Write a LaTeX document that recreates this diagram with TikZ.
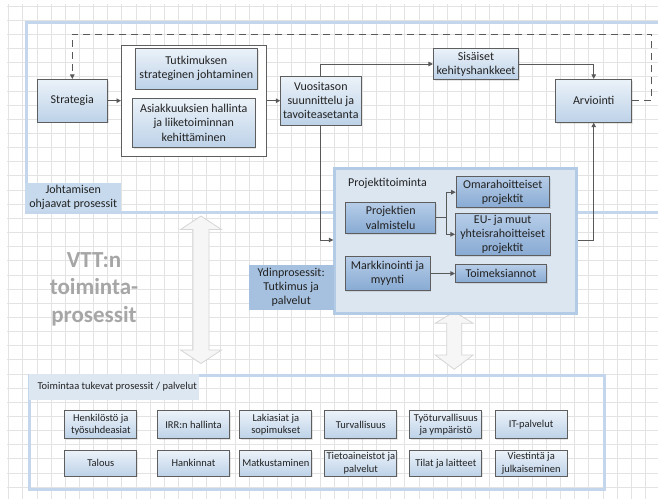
\documentclass[tikz,border=0pt]{standalone}
\usepackage{fontspec}
\setmainfont{Carlito}
\usetikzlibrary{arrows.meta,shadows}
\definecolor{gridc}{HTML}{E3E3E3}
\definecolor{framec}{HTML}{C3D6EB}
\definecolor{pframec}{HTML}{B3CBE4}
\definecolor{pfill}{HTML}{DCE6F1}
\definecolor{lblA}{HTML}{C6D9ED}
\definecolor{lblB}{HTML}{DDE7F2}
\definecolor{lblC}{HTML}{A6C1DF}
\definecolor{lt1}{HTML}{EBF2F9}
\definecolor{lt2}{HTML}{BDD2E8}
\definecolor{dk1}{HTML}{B6CDE8}
\definecolor{dk2}{HTML}{88AAD3}
\definecolor{bordc}{HTML}{5E5E5E}
\definecolor{connc}{HTML}{595959}
\definecolor{txtc}{HTML}{222222}
\definecolor{vttc}{HTML}{A6A6A6}
\definecolor{arrf}{HTML}{F6F6F6}
\definecolor{arrd}{HTML}{D6D6D6}
\tikzset{
  box/.style={draw=bordc, line width=0.8pt, top color=lt1, bottom color=lt2,
    text=txtc, align=center, inner sep=1pt,
    font=\fontsize{12}{14.2}\selectfont,
    drop shadow={shadow xshift=1.2pt, shadow yshift=-1.2pt, opacity=0.2}},
  dbox/.style={box, top color=dk1, bottom color=dk2},
  sbox/.style={box, font=\fontsize{10.5}{12.3}\selectfont, minimum width=72pt},
  conn/.style={draw=connc, line width=0.9pt, -{Triangle[length=4.5pt,width=4.5pt]}},
  dconn/.style={conn, dash pattern=on 7pt off 5pt},
  frame/.style={draw=framec, line width=3pt, inner sep=0pt},
  lbl/.style={inner sep=0pt, text=txtc, font=\fontsize{12}{14.2}\selectfont, align=center},
  dblarrow/.style={fill=arrf, draw=arrd, line width=0.8pt},
}
\begin{document}
\begin{tikzpicture}[x=1pt,y=-1pt]
\useasboundingbox (0,0) rectangle (658,499);
\fill[white] (0,0) rectangle (658,499);
\clip (0,0) rectangle (658,499);
% grid
\foreach \i in {0,...,46} {\draw[gridc, line width=0.7pt] (8.55+14.15*\i,4) -- (8.55+14.15*\i,499);}
\foreach \k in {0,...,34} {\draw[gridc, line width=0.7pt] (7,6+14.15*\k) -- (658,6+14.15*\k);}

% top frame
\node[frame, minimum width=655pt, minimum height=190pt, anchor=north west] (topf) at (25,21) {};
\node[lbl, fill=lblA, minimum width=96pt, minimum height=28pt, anchor=north west] (jlbl) at (25,183) {Johtamisen\\ohjaavat prosessit};

% bottom frame
\node[frame, minimum width=574.4pt, minimum height=114.3pt, anchor=north west] (botf) at (28.3,374) {};
\node[lbl, fill=lblB, minimum width=170.7pt, minimum height=26pt, anchor=north west] (tlblbox) at (28.3,374) {};
\node[lbl, anchor=west, font=\fontsize{10.5}{12.3}\selectfont] (tlbl) at (37.3,387) {Toimintaa tukevat prosessit / palvelut};

% big double arrows
\draw[dblarrow] (201,216) -- (221.5,229.5) -- (209,229.5) -- (209,350) -- (221.5,350) -- (201,363.5)
  -- (180.5,350) -- (193,350) -- (193,229.5) -- (180.5,229.5) -- cycle;
\draw[dblarrow] (454.2,311.7) -- (473.2,323.3) -- (461.7,323.3) -- (461.7,355) -- (473.2,355) -- (454.2,369.3)
  -- (435.2,355) -- (446.7,355) -- (446.7,323.3) -- (435.2,323.3) -- cycle;

% VTT text
\node[text=vttc, align=center, font=\fontsize{23}{27.5}\selectfont\bfseries] (vtt) at (94,289) {VTT:n\\toiminta-\\prosessit};

% project frame
\node[draw=pframec, fill=pfill, line width=3pt, inner sep=0pt, minimum width=241.7pt, minimum height=144.4pt, anchor=north west] (pt) at (333.3,167.3) {};
\node[lbl, fill=lblC, minimum width=84.6pt, minimum height=45.7pt, anchor=north west] (ydin) at (248.7,264.3) {Ydinprosessit:\\Tutkimus ja\\palvelut};
\node[lbl, anchor=west] (ptl) at (348,183) {Projektitoiminta};

% management boxes
\node[draw=bordc, fill=white, line width=0.8pt, minimum width=144.7pt, minimum height=111pt, anchor=north west] (grp) at (121,45) {};
\node[box, minimum width=70pt, minimum height=42.7pt] (strat) at (72.3,100.7) {Strategia};
\node[box, minimum width=122.7pt, minimum height=40.7pt] (tsj) at (196.3,68.7) {Tutkimuksen\\strateginen johtaminen};
\node[box, minimum width=122.3pt, minimum height=49pt] (asi) at (193.8,122.8) {Asiakkuuksien hallinta\\ja liiketoiminnan\\kehittäminen};
\node[box, minimum width=80.3pt, minimum height=48.6pt] (vuo) at (320.8,100.7) {Vuositason\\suunnittelu ja\\tavoiteasetanta};
\node[box, minimum width=85.3pt, minimum height=30.7pt] (sis) at (476,64) {Sisäiset\\kehityshankkeet};
\node[box, minimum width=76pt, minimum height=43pt] (arv) at (593.7,100.8) {Arviointi};

% project boxes
\node[dbox, minimum width=90pt, minimum height=31pt] (pv) at (390.7,217.8) {Projektien\\valmistelu};
\node[dbox, minimum width=93.3pt, minimum height=31pt] (oma) at (502.7,192.2) {Omarahoitteiset\\projektit};
\node[dbox, minimum width=94.7pt, minimum height=42pt] (eu) at (502.7,234.3) {EU- ja muut\\yhteisrahoitteiset\\projektit};
\node[dbox, minimum width=85pt, minimum height=34pt] (mm) at (387.5,273.5) {Markkinointi ja\\myynti};
\node[dbox, minimum width=91.3pt, minimum height=18pt] (toi) at (501,273.5) {Toimeksiannot};

% connectors
\coordinate (y240) at (0,240);
\coordinate (jn) at (446,0);
\coordinate (dA) at (651.7,34);
\draw[conn] (strat.east) -- (strat.east -| grp.west);
\draw[conn] (grp.east |- vuo.west) -- (vuo.west);
\draw[conn] (vuo.north) |- (sis.west);
\draw[conn] (sis.east) -| (arv.north);
\draw[conn] (vuo.south) |- (pt.west |- y240);
\draw[conn] (pt.east |- y240) -| (arv.south);
\draw[conn] (pv.east) -- (pv.east -| jn) |- (oma.west);
\draw[conn] (pv.east -| jn) |- (eu.west);
\draw[conn] (mm.east) -- (toi.west);
\draw[dconn] (arv.east) -| (dA) -- (strat.north |- dA) -- (strat.north);

% support boxes
\node[sbox, minimum height=27.6pt] (h1) at (100.8,424.5) {Henkilöstö ja\\työsuhdeasiat};
\node[sbox, minimum height=27.6pt] (h2) at (193.5,424.5) {IRR:n hallinta};
\node[sbox, minimum height=27.6pt] (h3) at (275.8,424.5) {Lakiasiat ja\\sopimukset};
\node[sbox, minimum height=27.6pt] (h4) at (360.8,424.5) {Turvallisuus};
\node[sbox, minimum height=27.6pt] (h5) at (445.8,424.5) {Työturvallisuus\\ja ympäristö};
\node[sbox, minimum height=27.6pt] (h6) at (531.2,424.5) {IT-palvelut};
\node[sbox, minimum height=25.3pt] (g1) at (100.8,463.3) {Talous};
\node[sbox, minimum height=25.3pt] (g2) at (193.5,463.3) {Hankinnat};
\node[sbox, minimum height=25.3pt] (g3) at (275.8,463.3) {Matkustaminen};
\node[sbox, minimum height=25.3pt] (g4) at (360.8,463.3) {Tietoaineistot ja\\palvelut};
\node[sbox, minimum height=25.3pt] (g5) at (445.8,463.3) {Tilat ja laitteet};
\node[sbox, minimum height=25.3pt] (g6) at (531.2,463.3) {Viestintä ja\\julkaiseminen};
\end{tikzpicture}
\end{document}
